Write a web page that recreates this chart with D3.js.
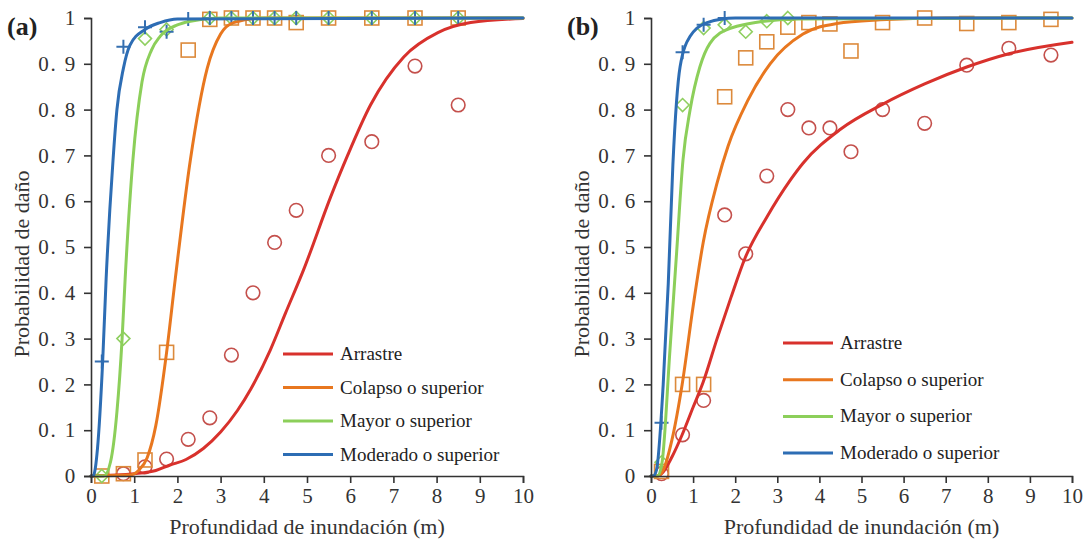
<!DOCTYPE html>
<html>
<head>
<meta charset="UTF-8">
<style>
body { margin: 0; background: #fff; }
</style>
</head>
<body>
<script src="https://cdnjs.cloudflare.com/ajax/libs/d3/7.8.5/d3.min.js"></script>
<script>
// series names and colours
const seriesNames = ["Arrastre", "Colapso o superior", "Mayor o superior", "Moderado o superior"];
const lineColors = ["#d8312c", "#e8771f", "#8ccf5a", "#2d6db4"];
const markColors = ["#c4504c", "#dc8a3c", "#8fcf60", "#356fb0"];
const xTicks = [0, 1, 2, 3, 4, 5, 6, 7, 8, 9, 10];
const yTicks = [0, 0.1, 0.2, 0.3, 0.4, 0.5, 0.6, 0.7, 0.8, 0.9, 1];
const serif = "'Liberation Serif', 'Times New Roman', 'DejaVu Serif', serif";

// ---- panel (a) observed points ----
const depthsA = [0.25, 0.75, 1.25, 1.75, 2.25, 2.75, 3.25, 3.75, 4.25, 4.75, 5.5, 6.5, 7.5, 8.5];
const arrastreA = [null, 0.005, 0.02, 0.037, 0.08, 0.127, 0.264, 0.40, 0.51, 0.58, 0.70, 0.73, 0.895, 0.81];
const colapsoA = [0.0, 0.005, 0.035, 0.27, 0.93, 0.997, 1, 1, 1, 0.99, 1, 1, 1, 1];
const mayorA = [0.0, 0.30, 0.955, 0.975, null, 1, 1, 1, 1, 1, 1, 1, 1, 1];
const moderadoA = [0.25, 0.937, 0.98, 0.97, 0.998, 1, 1, 1, 1, 1, 1, 1, 1, 1];

// ---- panel (a) fitted curves ----
const arrastreCurveXA = [0, 1, 1.5, 1.83, 2.2, 2.6, 3.0, 3.39, 3.7, 4.15, 4.5, 4.92, 5.55, 5.94, 6.47, 7.24, 8.03, 8.79, 10];
const arrastreCurveYA = [0, 0.005, 0.012, 0.024, 0.036, 0.06, 0.096, 0.143, 0.19, 0.275, 0.355, 0.45, 0.61, 0.70, 0.81, 0.915, 0.968, 0.99, 0.999];
const colapsoCurveXA = [0, 0.9, 1.1, 1.3, 1.5, 1.75, 1.95, 2.3, 2.69, 3.0, 3.3, 4, 10];
const colapsoCurveYA = [0, 0.002, 0.012, 0.04, 0.11, 0.27, 0.43, 0.69, 0.89, 0.965, 0.99, 1, 1];
const mayorCurveXA = [0, 0.3, 0.45, 0.6, 0.72, 0.79, 0.97, 1.18, 1.4, 1.6, 2.0, 2.3, 3, 10];
const mayorCurveYA = [0, 0, 0.03, 0.14, 0.30, 0.43, 0.69, 0.86, 0.93, 0.96, 0.985, 0.993, 1, 1];
const moderadoCurveXA = [0, 0.05, 0.15, 0.27, 0.35, 0.51, 0.6, 0.75, 0.9, 1.25, 1.6, 2, 10];
const moderadoCurveYA = [0, 0, 0.06, 0.25, 0.43, 0.69, 0.80, 0.89, 0.94, 0.975, 0.99, 0.998, 1];

// ---- panel (b) observed points ----
const depthsB = [0.25, 0.75, 1.25, 1.75, 2.25, 2.75, 3.25, 3.75, 4.25, 4.75, 5.5, 6.5, 7.5, 8.5, 9.5];
const arrastreB = [0.005, 0.09, 0.165, 0.57, 0.485, 0.655, 0.80, 0.76, 0.76, 0.708, 0.80, 0.77, 0.897, 0.934, 0.919];
const colapsoB = [0.01, 0.2, 0.2, 0.828, 0.913, 0.948, 0.98, 0.99, 0.987, 0.928, 0.99, 1.0, 0.988, 0.99, 0.997];
const mayorB = [0.03, 0.81, 0.978, 0.985, 0.97, 0.993, 1.0, null, null, null, null, null, null, null, null];
const moderadoB = [0.116, 0.925, 0.985, 1.0, null, null, null, null, null, null, null, null, null, null, null];

// ---- panel (b) fitted curves ----
const arrastreCurveXB = [0, 0.15, 0.29, 0.5, 0.74, 1.0, 1.24, 1.57, 1.9, 2.23, 2.75, 3.3, 3.61, 4.5, 5.51, 6.5, 7.5, 8.5, 10];
const arrastreCurveYB = [0, 0, 0.009, 0.042, 0.09, 0.15, 0.205, 0.30, 0.39, 0.475, 0.565, 0.645, 0.683, 0.757, 0.812, 0.856, 0.893, 0.922, 0.947];
const colapsoCurveXB = [0, 0.15, 0.29, 0.5, 0.74, 1.0, 1.24, 1.57, 1.83, 2.3, 2.83, 3.61, 4.41, 5.44, 7, 10];
const colapsoCurveYB = [0, 0, 0.013, 0.08, 0.2, 0.37, 0.51, 0.64, 0.72, 0.82, 0.9, 0.965, 0.988, 0.996, 1, 1];
const mayorCurveXB = [0, 0.15, 0.26, 0.45, 0.61, 0.76, 0.93, 1.16, 1.64, 2.28, 3.5, 10];
const mayorCurveYB = [0, 0, 0.028, 0.275, 0.49, 0.69, 0.80, 0.893, 0.967, 0.987, 0.998, 1];
const moderadoCurveXB = [0, 0.05, 0.13, 0.29, 0.41, 0.52, 0.69, 0.93, 1.33, 2, 10];
const moderadoCurveYB = [0, 0, 0.013, 0.2, 0.42, 0.68, 0.893, 0.96, 0.99, 1, 1];

const panels = [
  {
    tag: "(a)", left: 91, right: 523,
    depths: depthsA,
    points: [arrastreA, colapsoA, mayorA, moderadoA],
    curves: [[arrastreCurveXA, arrastreCurveYA], [colapsoCurveXA, colapsoCurveYA],
             [mayorCurveXA, mayorCurveYA], [moderadoCurveXA, moderadoCurveYA]],
    legend: {x: 283, y: 354, step: 33.5}
  },
  {
    tag: "(b)", left: 651, right: 1072,
    depths: depthsB,
    points: [arrastreB, colapsoB, mayorB, moderadoB],
    curves: [[arrastreCurveXB, arrastreCurveYB], [colapsoCurveXB, colapsoCurveYB],
             [mayorCurveXB, mayorCurveYB], [moderadoCurveXB, moderadoCurveYB]],
    legend: {x: 783, y: 343, step: 36.7}
  }
];

const plotTop = 18, plotBottom = 476;

const svg = d3.select("body").append("svg")
    .attr("width", 1084)
    .attr("height", 544)
    .attr("font-family", serif);

function drawMarker(g, kind, color) {
  if (kind === 0) {
    g.append("circle").attr("r", 6.8)
      .attr("fill", "none").attr("stroke", color).attr("stroke-width", 1.6);
  } else if (kind === 1) {
    g.append("rect").attr("x", -7).attr("y", -7).attr("width", 14).attr("height", 14)
      .attr("fill", "none").attr("stroke", color).attr("stroke-width", 1.6);
  } else if (kind === 2) {
    g.append("path").attr("d", "M0,-6.5L6.5,0L0,6.5L-6.5,0Z")
      .attr("fill", "none").attr("stroke", color).attr("stroke-width", 1.6);
  } else {
    g.append("path").attr("d", "M-7,0H7M0,-7V7")
      .attr("fill", "none").attr("stroke", color).attr("stroke-width", 2);
  }
}

panels.forEach(p => {
  const x = d3.scaleLinear().domain([0, 10]).range([p.left, p.right]);
  const y = d3.scaleLinear().domain([0, 1]).range([plotBottom, plotTop]);
  const g = svg.append("g");

  // observed markers
  p.points.forEach((vals, s) => {
    vals.forEach((v, i) => {
      if (v === null) return;
      const m = g.append("g")
        .attr("transform", `translate(${x(p.depths[i])},${y(v)})`);
      drawMarker(m, s, markColors[s]);
    });
  });

  // fitted curves
  const line = d3.line()
      .x(d => x(d[0]))
      .y(d => y(d[1]))
      .curve(d3.curveMonotoneX);
  p.curves.forEach((c, s) => {
    const pts = c[0].map((v, i) => [v, c[1][i]]);
    g.append("path")
      .attr("d", line(pts))
      .attr("fill", "none")
      .attr("stroke", lineColors[s])
      .attr("stroke-width", 3)
      .attr("stroke-linecap", "round");
  });

  // axes
  const xAxis = g.append("g")
    .attr("transform", `translate(0,${plotBottom})`)
    .call(d3.axisBottom(x).tickValues(xTicks).tickSize(7).tickPadding(5).tickFormat(d3.format("d")));
  const yAxis = g.append("g")
    .attr("transform", `translate(${p.left},0)`)
    .call(d3.axisLeft(y).tickValues(yTicks).tickSize(7).tickPadding(7)
      .tickFormat(d => d === 0 ? "0" : d === 1 ? "1" : "0. " + Math.round(d * 10)));
  [xAxis, yAxis].forEach(a => {
    a.attr("font-family", serif).attr("font-size", 21);
    a.selectAll("path, line").attr("stroke", "#333").attr("stroke-width", 1.6);
    a.selectAll("text").attr("fill", "#333");
  });
  yAxis.selectAll("text").attr("letter-spacing", 1.8);

  // titles
  g.append("text")
    .attr("x", (p.left + p.right) / 2)
    .attr("y", 534)
    .attr("text-anchor", "middle")
    .attr("font-family", serif)
    .attr("font-size", 22)
    .attr("fill", "#333")
    .text("Profundidad de inundación (m)");
  g.append("text")
    .attr("transform", `translate(${p.left - 62},${264}) rotate(-90)`)
    .attr("text-anchor", "middle")
    .attr("font-family", serif)
    .attr("font-size", 22)
    .attr("fill", "#333")
    .text("Probabilidad de daño");
  g.append("text")
    .attr("x", p.left - 84)
    .attr("y", 35)
    .attr("font-family", serif)
    .attr("font-size", 26)
    .attr("font-weight", "bold")
    .attr("fill", "#222")
    .text(p.tag);

  // legend
  seriesNames.forEach((name, s) => {
    const ly = p.legend.y + s * p.legend.step;
    g.append("line")
      .attr("x1", p.legend.x).attr("x2", p.legend.x + 50)
      .attr("y1", ly).attr("y2", ly)
      .attr("stroke", lineColors[s]).attr("stroke-width", 3);
    g.append("text")
      .attr("x", p.legend.x + 57)
      .attr("y", ly + 6)
      .attr("font-family", serif)
      .attr("font-size", 19)
      .attr("fill", "#222")
      .text(name);
  });
});
</script>
</body>
</html>
